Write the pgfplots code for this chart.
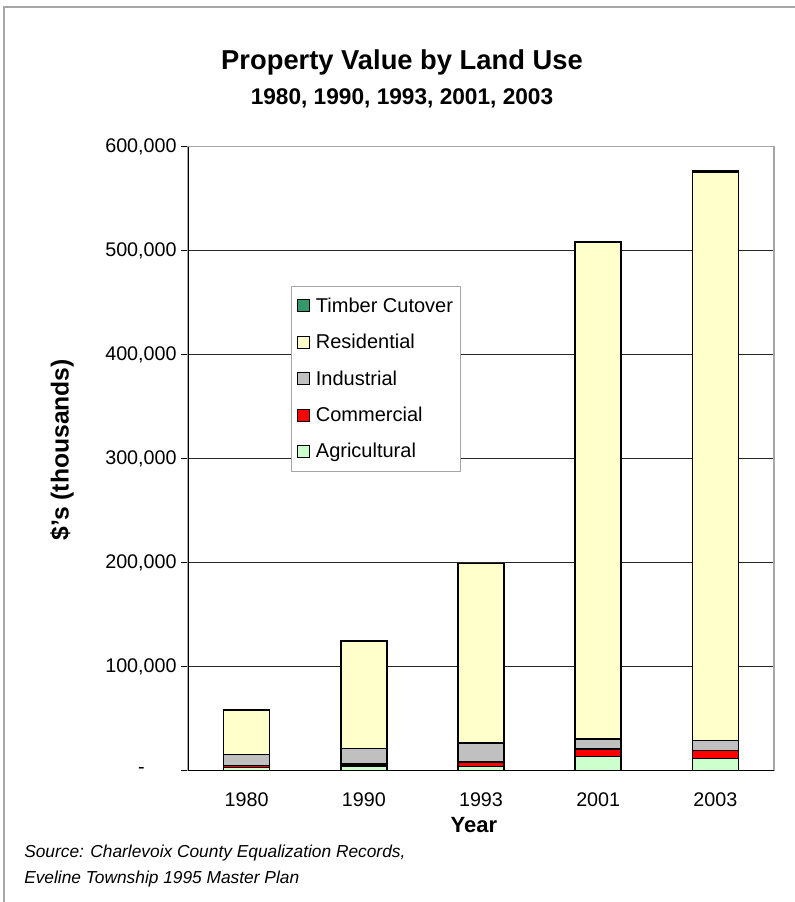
\documentclass[border=0pt]{standalone}
\usepackage{fontspec}
\setmainfont{Liberation Sans}
\usepackage{pgfplots}
\pgfplotsset{compat=1.18}
\definecolor{timber}{HTML}{339966}
\definecolor{resid}{HTML}{FFFFCC}
\definecolor{indus}{HTML}{C0C0C0}
\definecolor{comm}{HTML}{FF0000}
\definecolor{agri}{HTML}{CCFFCC}
\pgfplotsset{
  mybar/.style={fill=#1, draw=black, line width=1.1pt,
    legend image code/.code={\draw[fill=#1, draw=black, line width=0.8pt] (0pt,-4.5pt) rectangle (9pt,4.5pt);}},
}
\begin{document}
\begin{tikzpicture}
\path[use as bounding box] (0,0) rectangle (595.5pt,-676.5pt);
\draw[gray!70, line width=0.8pt] (3pt,-680pt) -- (3pt,-5.25pt) -- (600pt,-5.25pt);
\node[font=\bfseries\fontsize{20.5}{23}\selectfont] at (301.5pt,-46.5pt) {Property Value by Land Use};
\node[font=\bfseries\fontsize{17}{20}\selectfont] at (301.5pt,-74pt) {1980, 1990, 1993, 2001, 2003};
\begin{axis}[
  at={(141pt,-577.9pt)}, anchor=south west,
  scale only axis, width=439.5pt, height=467.9pt,
  ymin=0, ymax=600000, xmin=-0.5, xmax=4.5,
  ybar stacked, bar width=34.5pt,
  xtick={0,1,2,3,4}, xticklabels={1980,1990,1993,2001,2003},
  x tick style={draw=none},
  extra x ticks={0.5,1.5,2.5,3.5}, extra x tick labels={},
  extra x tick style={tick style={draw=black, line width=0.6pt}},
  ytick={0,100000,200000,300000,400000,500000,600000},
  yticklabels={{-\rule{24pt}{0pt}},{100,000},{200,000},{300,000},{400,000},{500,000},{600,000}},
  scaled y ticks=false,
  xtick pos=bottom, ytick pos=left,
  tick align=outside, major tick length=5pt,
  y tick style={draw=black, line width=0.6pt},
  ymajorgrids, major grid style={black!85, line width=0.6pt},
  axis line style={gray!70, line width=0.8pt},
  every tick label/.append style={font=\fontsize{14.8}{17}\selectfont},
  /pgf/number format/assume math mode=true,
  xticklabel style={yshift=-8pt},
  xlabel={Year}, ylabel={\$'s (thousands)},
  label style={font=\bfseries\fontsize{16.5}{19}\selectfont},
  xlabel style={at={(axis description cs:0.488,-0.087)}, anchor=center},
  ylabel style={at={(axis description cs:-0.215,0.514)}, anchor=center, font=\bfseries\fontsize{18.5}{21}\selectfont},
  legend style={at={(0.176,0.777)}, anchor=north west, draw=gray!70, line width=0.6pt,
    font=\fontsize{15}{17}\selectfont, row sep=12pt, inner xsep=4pt, inner ysep=7pt,
    nodes={inner sep=1.5pt}},
  legend cell align=left,
  reverse legend,
]
\addplot[mybar=agri] coordinates {(0,3000) (1,4300) (2,4000) (3,13500) (4,11800)};
\addlegendentry{\hspace{3pt}Agricultural}
\addplot[mybar=comm] coordinates {(0,2000) (1,2200) (2,4200) (3,7400) (4,7500)};
\addlegendentry{\hspace{3pt}Commercial}
\addplot[mybar=indus] coordinates {(0,10600) (1,14800) (2,18500) (3,9600) (4,9600)};
\addlegendentry{\hspace{3pt}Industrial}
\addplot[mybar=resid] coordinates {(0,42600) (1,103200) (2,172500) (3,477900) (4,546300)};
\addlegendentry{\hspace{3pt}Residential}
\addplot[mybar=timber] coordinates {(0,0) (1,0) (2,0) (3,0) (4,1500)};
\addlegendentry{\hspace{3pt}Timber Cutover}
\draw[black, line width=0.8pt] (rel axis cs:0,1) -- (rel axis cs:0,0) -- (rel axis cs:1,0);
\end{axis}
\node[anchor=base west, inner sep=0pt, font=\itshape\fontsize{13}{15}\selectfont] at (18pt,-643pt) {Source:  Charlevoix County Equalization Records,};
\node[anchor=base west, inner sep=0pt, font=\itshape\fontsize{13}{15}\selectfont] at (18pt,-662.5pt) {Eveline Township 1995 Master Plan};
\end{tikzpicture}
\end{document}
